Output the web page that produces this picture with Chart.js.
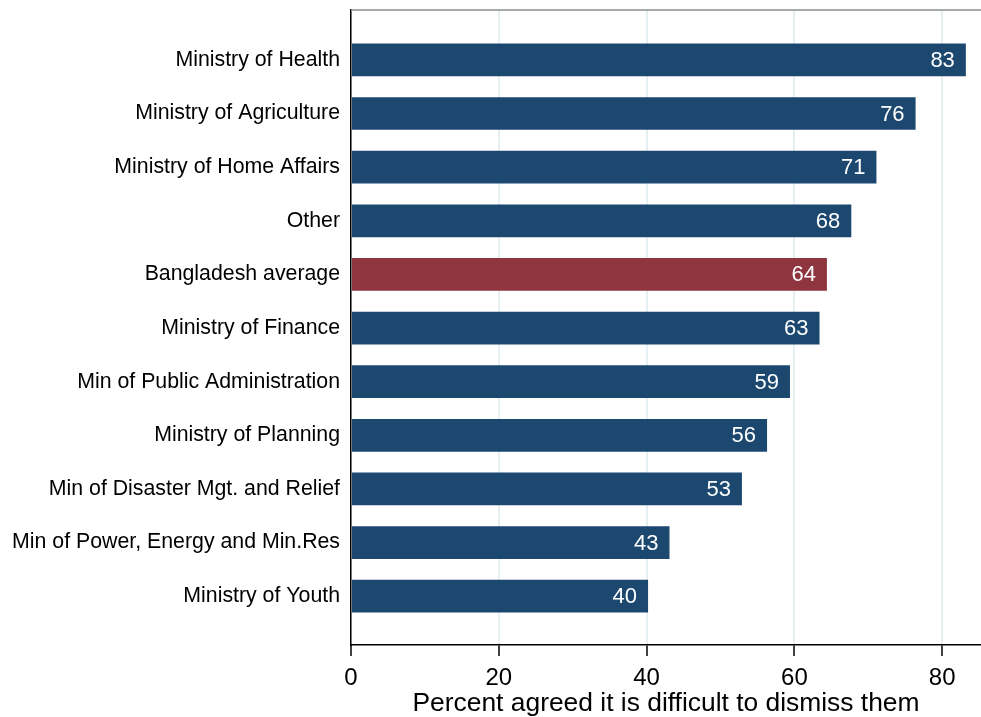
<!DOCTYPE html>
<html>
<head>
<meta charset="utf-8">
<script src="https://cdn.jsdelivr.net/npm/chart.js@4"></script>
<style>
  html, body { margin: 0; padding: 0; background: #fff; }
  #wrap { width: 981px; height: 717px; }
</style>
</head>
<body>
<div id="wrap"><canvas id="chart" width="981" height="717"></canvas></div>
<script>
// ministries, top to bottom
const categories = [
  'Ministry of Health',
  'Ministry of Agriculture',
  'Ministry of Home Affairs',
  'Other',
  'Bangladesh average',
  'Ministry of Finance',
  'Min of Public Administration',
  'Ministry of Planning',
  'Min of Disaster Mgt. and Relief',
  'Min of Power, Energy and Min.Res',
  'Ministry of Youth'
];
const percentAgreed = [83.2, 76.4, 71.1, 67.7, 64.4, 63.4, 59.4, 56.3, 52.9, 43.1, 40.2];
const highlight = 'Bangladesh average';
const xTicks = [0, 20, 40, 60, 80];

const NAVY = '#1c4870';
const RED = '#8f3540';
const FONT = '"Liberation Sans", Arial, Helvetica, sans-serif';

// Stata style frame line on top of plot region
const topLine = {
  id: 'topLine',
  afterDraw(chart) {
    const { ctx, chartArea } = chart;
    ctx.save();
    ctx.strokeStyle = '#8c8c8c';
    ctx.lineWidth = 1.5;
    ctx.beginPath();
    ctx.moveTo(chartArea.left, chartArea.top);
    ctx.lineTo(chartArea.right, chartArea.top);
    ctx.stroke();
    ctx.restore();
  }
};

// value labels inside the bar ends
const barLabels = {
  id: 'barLabels',
  afterDatasetsDraw(chart) {
    const { ctx } = chart;
    const meta = chart.getDatasetMeta(0);
    ctx.save();
    ctx.fillStyle = '#fff';
    ctx.font = '22px ' + FONT;
    ctx.textAlign = 'right';
    ctx.textBaseline = 'middle';
    meta.data.forEach((bar, i) => {
      ctx.fillText(String(Math.round(percentAgreed[i])), bar.x - 11, bar.y + 1);
    });
    ctx.restore();
  }
};

const ctx = document.getElementById('chart').getContext('2d');
new Chart(ctx, {
  type: 'bar',
  data: {
    datasets: [{
      data: percentAgreed.map((v, i) => ({ x: v, y: i })),
      backgroundColor: categories.map(c => (c === highlight ? RED : NAVY)),
      borderWidth: 0,
      barPercentage: 0.61,
      categoryPercentage: 1
    }]
  },
  options: {
    indexAxis: 'y',
    responsive: false,
    animation: false,
    layout: { padding: { top: 10, right: 0, left: 0, bottom: 0 } },
    plugins: {
      legend: { display: false },
      tooltip: { enabled: false }
    },
    scales: {
      x: {
        type: 'linear',
        min: 0,
        max: 85.25,
        afterFit(scale) {
          scale.height = 72;
          scale.paddingLeft = 0;
          scale.paddingRight = 0;
        },
        afterBuildTicks(scale) { scale.ticks = xTicks.map(v => ({ value: v })); },
        grid: {
          color: '#e6eff1',
          lineWidth: 2,
          tickColor: '#000',
          tickLength: 11,
          tickWidth: 1.5
        },
        border: { color: '#000', width: 1.5 },
        ticks: {
          color: '#000',
          font: { family: FONT, size: 24 },
          padding: 8,
          maxRotation: 0
        },
        title: {
          display: true,
          text: 'Percent agreed it is difficult to dismiss them',
          color: '#000',
          font: { family: FONT, size: 26.4 },
          padding: { top: 0, bottom: -3 }
        }
      },
      y: {
        type: 'linear',
        reverse: true,
        offset: false,
        min: -0.93,
        max: 10.91,
        afterFit(scale) {
          scale.width = 351;
          scale.paddingTop = 0;
          scale.paddingBottom = 0;
        },
        afterBuildTicks(scale) { scale.ticks = categories.map((c, i) => ({ value: i })); },
        grid: { display: false, drawTicks: false },
        border: { color: '#000', width: 1.5 },
        ticks: {
          autoSkip: false,
          color: '#000',
          font: { family: FONT, size: 21.3 },
          padding: 11,
          callback: v => categories[v]
        }
      }
    }
  },
  plugins: [topLine, barLabels]
});
</script>
</body>
</html>
